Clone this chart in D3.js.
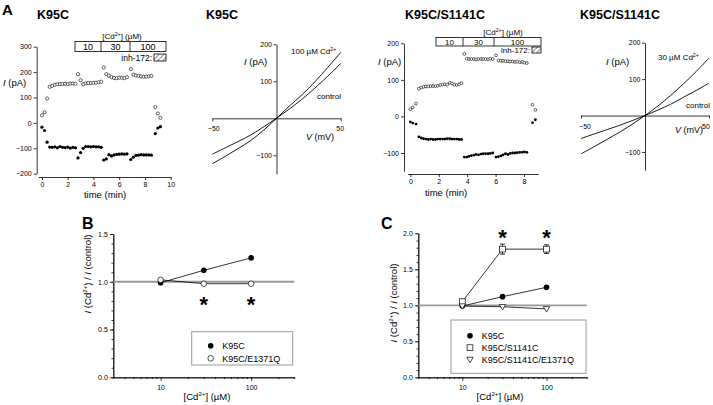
<!DOCTYPE html>
<html><head><meta charset="utf-8">
<script src="https://cdn.jsdelivr.net/npm/d3@7"></script>
<style>
body{margin:0;background:#fff}
svg{display:block}
text{font-family:"Liberation Sans",Arial,Helvetica,sans-serif;fill:#000}
</style>
</head><body>
<svg id="c" width="713" height="405"></svg>
<script>
// ---------------- DATA ----------------
// Panel A1: K95C time course
const k95cTime   = [0,0.2,0.4,0.6,0.8,1.0,1.2,1.4,1.6,1.8,2.0,2.2,2.4,2.6,2.8,3.0,3.2,3.4,3.6,3.8,4.0,4.2,4.4,4.6,4.8,5.0,5.2,5.4,5.6,5.8,6.0,6.2,6.4,6.6,6.9,7.1,7.3,7.5,7.7,7.9,8.1,8.3,8.5,8.8,9.0,9.2];
const k95cOpen   = [30,42,96,142,146,150,152,153,153,154,153,155,155,154,192,168,152,156,157,157,158,158,160,162,218,192,186,180,177,176,178,178,176,180,212,190,187,185,183,182,182,183,185,62,37,20];
const k95cFilled = [-17,-30,-76,-95,-96,-94,-98,-93,-96,-97,-95,-99,-96,-98,-138,-117,-100,-93,-93,-94,-93,-94,-94,-96,-146,-142,-125,-130,-126,-124,-123,-122,-123,-122,-144,-135,-128,-127,-125,-126,-126,-126,-127,-42,-20,-15];
// Panel A3: K95C/S1141C time course
const dblTime   = [0,0.17,0.4,0.6,0.77,0.93,1.1,1.27,1.43,1.6,1.77,1.93,2.1,2.27,2.43,2.6,2.77,2.93,3.1,3.27,3.43,3.6,3.8,3.97,4.13,4.3,4.47,4.63,4.8,4.97,5.13,5.3,5.47,5.63,5.8,6.03,6.2,6.37,6.53,6.7,6.87,7.03,7.2,7.37,7.53,7.7,7.87,8.03,8.2,8.6,8.8];
const dblOpen   = [20,25,35,76,79,81,82,82,83,83,83,84,86,87,88,87,92,90,87,86,88,91,171,158,157,157,157,156,157,157,157,157,156,158,157,167,153,152,152,151,151,150,150,149,150,148,149,147,146,32,18];
const dblFilled = [-15,-18,-21,-56,-59,-61,-62,-63,-62,-63,-63,-62,-62,-62,-62,-61,-61,-62,-62,-62,-63,-63,-111,-111,-109,-107,-106,-104,-105,-103,-102,-102,-102,-101,-100,-111,-110,-108,-105,-102,-104,-101,-100,-100,-99,-98,-98,-97,-98,-17,-9];
// I-V curves
const ivVoltage  = [-50,-40,-30,-20,-10,0,10,20,30,40,50];
const k95cIvCd   = [-123,-103,-82,-60,-32,0,33,64,99,138,178];
const k95cIvCtrl = [-97,-80,-63,-45,-23,0,25,52,82,114,148];
const dblIvCd    = [-105,-86,-66,-46,-24,0,26,55,87,121,158];
const dblIvCtrl  = [-63,-51,-39,-27,-14,0,15,31,50,69,89];
// Dose-response
const cdConc      = [10,30,100];
const bK95C       = [0.99,1.12,1.25];
const bE1371Q     = [1.02,0.98,0.98];
const cK95C       = [0.99,1.12,1.25];
const cS1141C     = [1.05,1.78,1.78];
const cS1141CErr  = [0.03,0.07,0.06];
const cTriple     = [0.99,0.98,0.95];
// Tick values / labels
const tc1YTicks = [-200,-100,0,100,200,300];
const tc1XTicks = [0,2,4,6,8,10];
const tc3YTicks = [-100,0,100,200];
const tc3XTicks = [0,2,4,6,8];
const ivYTicks  = [-100,100,200];
const ivXTicks  = [-50,50];
const bYTicks   = [0,0.5,1.0,1.5];
const cYTicks   = [0,0.5,1.0,1.5,2.0];
const doseMajor = [10,100];
const doseMinor = [3,4,5,6,7,8,9,20,30,40,50,60,70,80,90,200,300];
const cdBoxLabels = ["10","30","100"];

// ---------------- HELPERS ----------------
const svg = d3.select("#c");
const defs = svg.append("defs");
const pat = defs.append("pattern").attr("id","hatch").attr("patternUnits","userSpaceOnUse")
  .attr("width",3.5).attr("height",3.5).attr("patternTransform","rotate(45)");
pat.append("line").attr("x1",0).attr("y1",0).attr("x2",0).attr("y2",3.5).attr("stroke","#000").attr("stroke-width",0.9);

function rich(g, x, y, parts, size, anchor="start") {
  const t = g.append("text").attr("x",x).attr("y",y).attr("font-size",size).attr("text-anchor",anchor);
  let shifted = false;
  parts.forEach(p => {
    const [s, st] = typeof p === "string" ? [p, ""] : p;
    const ts = t.append("tspan").text(s);
    if (st.includes("i")) ts.attr("font-style","italic");
    if (st.includes("s")) { ts.attr("font-size", size*0.65).attr("dy", -size*0.42); shifted = true; }
    else if (shifted) { ts.attr("dy", size*0.42); shifted = false; }
  });
  return t;
}
function styleAxis(sel, fs=7) {
  sel.attr("font-family",null).attr("font-size",fs);
  sel.selectAll("path,line").attr("stroke","#000").attr("stroke-width",0.8);
}
function label(g,x,y,s,size,opts={}) {
  const t = g.append("text").attr("x",x).attr("y",y).attr("font-size",size).text(s);
  if (opts.bold) t.attr("font-weight","bold");
  if (opts.anchor) t.attr("text-anchor",opts.anchor);
  return t;
}

// ---------------- PANEL LETTERS & TITLES ----------------
label(svg,2,15,"A",15,{bold:true});
label(svg,82,229,"B",16,{bold:true});
label(svg,381,229,"C",16,{bold:true});
label(svg,37,19,"K95C",12.5,{bold:true});
label(svg,206,19,"K95C",12.5,{bold:true});
label(svg,405,19,"K95C/S1141C",12.5,{bold:true});
label(svg,580,19,"K95C/S1141C",12.5,{bold:true});

// ---------------- TIME COURSE PANELS ----------------
function timePanel(c) {
  const g = svg.append("g");
  const x = d3.scaleLinear().domain(c.xDom).range(c.xRange);
  const y = d3.scaleLinear().domain(c.yDom).range(c.yRange);
  g.append("g").attr("transform",`translate(${c.yAxisX},0)`)
    .call(d3.axisLeft(y).tickValues(c.yTicks).tickSize(3).tickSizeOuter(0).tickPadding(2))
    .call(styleAxis);
  g.append("g").attr("transform",`translate(0,${c.xAxisY})`)
    .call(d3.axisBottom(x).tickValues(c.xTicks).tickSize(3).tickSizeOuter(0).tickPadding(2))
    .call(styleAxis);
  g.selectAll("circle.f").data(c.t).join("circle").attr("class","f")
    .attr("cx",d=>x(d)).attr("cy",(d,i)=>y(c.filled[i])).attr("r",c.r).attr("fill","#000");
  g.selectAll("circle.o").data(c.t).join("circle").attr("class","o")
    .attr("cx",d=>x(d)).attr("cy",(d,i)=>y(c.open[i])).attr("r",c.r)
    .attr("fill","#fff").attr("stroke","#000").attr("stroke-width",0.6);
  rich(g,c.ylab[0],c.ylab[1],[["I","i"]," (pA)"],9.5);
  label(g,c.xlab[0],c.xlab[1],"time (min)",9.5,{anchor:"middle"});
  // Cd box
  const b = c.box;
  g.append("rect").attr("x",b.x0).attr("y",b.y0).attr("width",b.x3-b.x0).attr("height",b.h)
    .attr("fill","#fff").attr("stroke","#000").attr("stroke-width",0.8);
  [b.x1,b.x2].forEach(xx=>g.append("line").attr("x1",xx).attr("x2",xx).attr("y1",b.y0).attr("y2",b.y0+b.h).attr("stroke","#000").attr("stroke-width",0.8));
  const cx = [(b.x0+b.x1)/2,(b.x1+b.x2)/2,(b.x2+b.x3)/2];
  cdBoxLabels.forEach((s,i)=>label(g,cx[i],b.y0+b.h-1.4,s,b.fs,{anchor:"middle"}));
  rich(g,b.cdX,b.y0-2.5,["[Cd",["2+","s"],"] (µM)"],8,"middle");
  label(g,b.hx-2,b.hy+b.hh+0.3,"inh-172:",b.ifs,{anchor:"end"});
  g.append("rect").attr("x",b.hx).attr("y",b.hy).attr("width",b.x3-b.hx).attr("height",b.hh)
    .attr("fill","url(#hatch)").attr("stroke","#000").attr("stroke-width",0.8);
}
timePanel({
  t:k95cTime, open:k95cOpen, filled:k95cFilled, r:1.6,
  xDom:[-0.3,10], xRange:[38.1,170.7], yDom:[-200,300], yRange:[173.7,46.7],
  yAxisX:36.7, xAxisY:177, yTicks:tc1YTicks, xTicks:tc1XTicks,
  ylab:[3,86], xlab:[105,198],
  box:{x0:75,x1:101,x2:130,x3:166,y0:41.5,h:10,fs:9,ifs:8.5,cdX:122,hx:154,hy:54,hh:7}
});
timePanel({
  t:dblTime, open:dblOpen, filled:dblFilled, r:1.4,
  xDom:[-0.2,9], xRange:[407.5,538.2], yDom:[-150,200], yRange:[171.3,43.3],
  yAxisX:404, xAxisY:174, yTicks:tc3YTicks, xTicks:tc3XTicks,
  ylab:[378,65], xlab:[446,196],
  box:{x0:436,x1:463,x2:494,x3:541,y0:37.5,h:8.5,fs:8,ifs:8,cdX:503,hx:532,hy:47,hh:6}
});

// ---------------- I-V PANELS ----------------
function ivPanel(c) {
  const g = svg.append("g");
  const x = d3.scaleLinear().domain([-50,50]).range(c.xRange);
  const y = d3.scaleLinear().domain([-150,200]).range(c.yRange);
  g.append("g").attr("transform",`translate(${x(0)},0)`)
    .call(d3.axisLeft(y).tickValues(ivYTicks).tickSize(3).tickSizeOuter(0).tickPadding(1.5))
    .call(styleAxis);
  const xa = g.append("g").attr("transform",`translate(0,${y(0)})`)
    .call(d3.axisBottom(x).tickValues(ivXTicks).tickSize(3).tickSizeOuter(0).tickPadding(5).tickFormat(d3.format("d")))
    .call(styleAxis);
  xa.selectAll(".tick text").attr("dx",d=>d<0?c.lblShift:-c.lblShift);
  const line = d3.line().x((d,i)=>x(ivVoltage[i])).y(d=>y(d)).curve(d3.curveCatmullRom);
  [c.cd,c.ctrl].forEach(arr=>g.append("path").datum(arr).attr("d",line)
    .attr("fill","none").attr("stroke","#000").attr("stroke-width",0.9));
  rich(g,c.ylab[0],c.ylab[1],[["I","i"]," (pA)"],9.5);
  rich(g,c.vlab[0],c.vlab[1],[["V","i"]," (mV)"],9);
  rich(g,c.cdlab[0],c.cdlab[1],[c.cdText,"Cd",["2+","s"]],8);
  label(g,c.ctlab[0],c.ctlab[1],"control",8);
}
ivPanel({xRange:[212.3,340.7], yRange:[173.8,44.3], cd:k95cIvCd, ctrl:k95cIvCtrl, lblShift:1,
  ylab:[244,65], vlab:[306,140], cdlab:[291,54], cdText:"100 µM ", ctlab:[317,99]});
ivPanel({xRange:[581,709], yRange:[170.2,42.7], cd:dblIvCd, ctrl:dblIvCtrl, lblShift:3.5,
  ylab:[606,65], vlab:[675,133], cdlab:[658,60], cdText:"30 µM ", ctlab:[686,108]});

// ---------------- DOSE-RESPONSE PANELS ----------------
function dosePanel(c) {
  const g = svg.append("g");
  const x = d3.scaleLog().domain([3,300]).range(c.xRange);
  const y = d3.scaleLinear().domain(c.yDom).range([377.3,c.yTop]);
  g.append("g").attr("transform",`translate(${c.xRange[0]},0)`)
    .call(d3.axisLeft(y).tickValues(d3.range(0,c.yDom[1]+0.001,0.1)).tickSize(1.8).tickSizeOuter(0).tickFormat(""))
    .call(styleAxis);
  g.append("g").attr("transform",`translate(${c.xRange[0]},0)`)
    .call(d3.axisLeft(y).tickValues(c.yTicks).tickSize(3.5).tickSizeOuter(0).tickPadding(2).tickFormat(d3.format(".1f")))
    .call(styleAxis);
  g.append("g").attr("transform","translate(0,377.3)")
    .call(d3.axisBottom(x).tickValues(doseMinor).tickSize(1.8).tickSizeOuter(0).tickFormat(""))
    .call(styleAxis);
  g.append("g").attr("transform","translate(0,377.3)")
    .call(d3.axisBottom(x).tickValues(doseMajor).tickSize(3.5).tickSizeOuter(0).tickPadding(4).tickFormat(d3.format("d")))
    .call(styleAxis);
  g.append("line").attr("x1",c.xRange[0]).attr("x2",c.xRange[1]).attr("y1",y(1)).attr("y2",y(1))
    .attr("stroke","#999").attr("stroke-width",1.8);
  const line = d3.line().x((d,i)=>x(cdConc[i])).y(d=>y(d));
  c.series.forEach(s=>{
    g.append("path").datum(s.v).attr("d",line).attr("fill","none").attr("stroke","#000").attr("stroke-width",0.8);
  });
  c.series.forEach(s=>{
    if (s.err) {
      s.v.forEach((v,i)=>{
        const xx=x(cdConc[i]), e=s.err[i];
        g.append("line").attr("x1",xx).attr("x2",xx).attr("y1",y(v-e)).attr("y2",y(v+e)).attr("stroke","#000").attr("stroke-width",0.8);
        [v-e,v+e].forEach(vv=>g.append("line").attr("x1",xx-2.5).attr("x2",xx+2.5).attr("y1",y(vv)).attr("y2",y(vv)).attr("stroke","#000").attr("stroke-width",0.8));
      });
    }
    s.v.forEach((v,i)=>marker(g,s.m,x(cdConc[i]),y(v)));
  });
  c.stars.forEach(cx=>label(g,x(cx),c.starY,"*",22,{bold:true,anchor:"middle"}));
  const yl = rich(g,0,0,[["I","i"]," (Cd",["2+","s"],") / ",["I","i"]," (control)"],9.5,"middle");
  yl.attr("transform",`translate(${c.ylab[0]},${c.ylab[1]}) rotate(-90)`);
  rich(g,c.xlab,400,["[Cd",["2+","s"],"] (µM)"],9.5,"middle");
  const L=c.legend;
  g.append("rect").attr("x",L.x).attr("y",L.y).attr("width",L.w).attr("height",L.h)
    .attr("fill","#fff").attr("stroke","#999").attr("stroke-width",1);
  c.series.forEach((s,i)=>{
    marker(g,s.m,L.mx,L.rows[i]);
    label(g,L.tx,L.rows[i]+3.2,s.name,9);
  });
}
function marker(g,m,x,y){
  if (m==="fc") g.append("circle").attr("cx",x).attr("cy",y).attr("r",2.8).attr("fill","#000");
  else if (m==="oc") g.append("circle").attr("cx",x).attr("cy",y).attr("r",2.8).attr("fill","#fff").attr("stroke","#000").attr("stroke-width",0.7);
  else if (m==="sq") g.append("rect").attr("x",x-2.9).attr("y",y-2.9).attr("width",5.8).attr("height",5.8).attr("fill","#fff").attr("stroke","#000").attr("stroke-width",0.7);
  else if (m==="tri") g.append("path").attr("d",`M${x-3.2},${y-2.2}L${x+3.2},${y-2.2}L${x},${y+3.2}Z`).attr("fill","#fff").attr("stroke","#000").attr("stroke-width",0.7);
}
dosePanel({
  xRange:[113.3,294.3], yDom:[0,1.5], yTop:234, yTicks:bYTicks,
  series:[{name:"K95C",v:bK95C,m:"fc"},{name:"K95C/E1371Q",v:bE1371Q,m:"oc"}],
  stars:[30,100], starY:312, ylab:[91,274], xlab:207,
  legend:{x:191.7,y:331.7,w:101,h:33.3,mx:210.7,tx:222.3,rows:[345.7,358.3]}
});
dosePanel({
  xRange:[418.3,586.7], yDom:[0,2.0], yTop:233.3, yTicks:cYTicks,
  series:[{name:"K95C",v:cK95C,m:"fc"},{name:"K95C/S1141C",v:cS1141C,m:"sq",err:cS1141CErr},{name:"K95C/S1141C/E1371Q",v:cTriple,m:"tri"}],
  stars:[30,100], starY:245, ylab:[397,303], xlab:500,
  legend:{x:451,y:320,w:135,h:53.3,mx:470,tx:481.7,rows:[335.7,347.7,359.5]}
});
</script>
</body></html>
